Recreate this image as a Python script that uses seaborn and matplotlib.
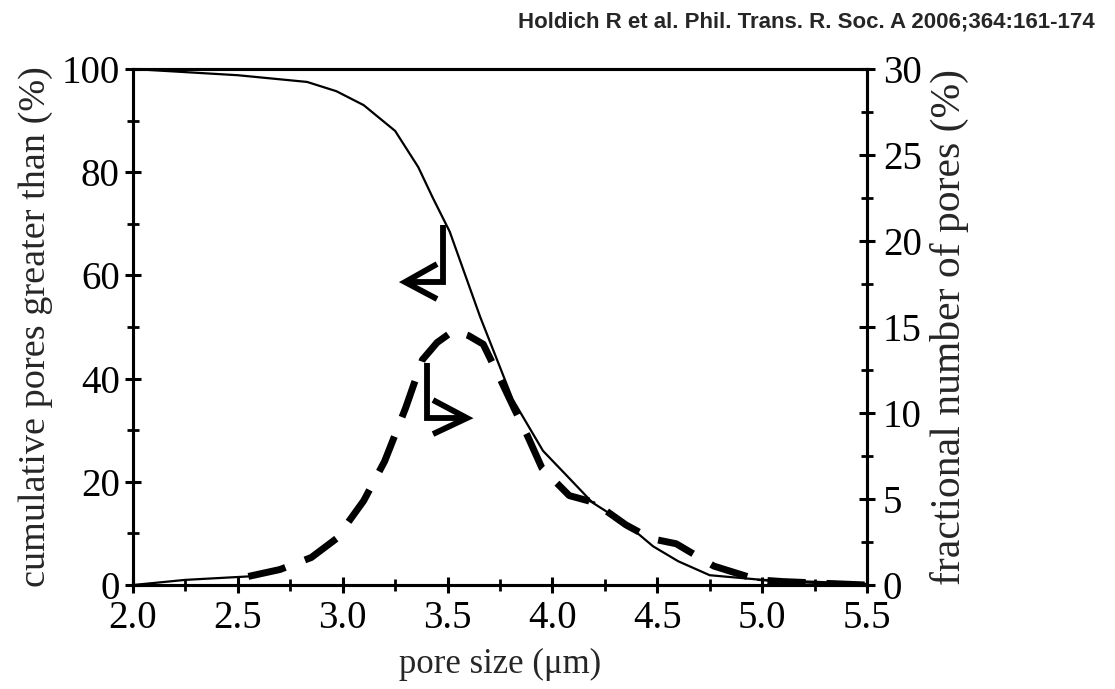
import matplotlib
matplotlib.use("Agg")
import matplotlib.pyplot as plt
import seaborn as sns
import pandas as pd
import numpy as np
from matplotlib.ticker import MultipleLocator

# cumulative pores greater than (%), left axis
cum_x = [2.0, 2.5, 2.83, 2.97, 3.1, 3.25, 3.36, 3.43, 3.51, 3.655, 3.81, 3.955,
         4.08, 4.19, 4.36, 4.48, 4.6, 4.75, 5.0, 5.4, 5.5]
cum_y = [100, 98.8, 97.5, 95.7, 93.0, 88.0, 81.0, 75.0, 68.5, 52.0, 36.0, 26.0,
         20.7, 16.0, 11.6, 7.5, 4.6, 1.9, 1.0, 0.4, 0.2]

# fractional number of pores (%), right axis
frac_x = [2.0, 2.25, 2.55, 2.7, 2.85, 2.97, 3.1, 3.2, 3.3, 3.38, 3.45, 3.53, 3.6,
          3.67, 3.75, 3.82, 3.88, 3.95, 4.08, 4.2, 4.35, 4.47, 4.59, 4.77, 4.98,
          5.1, 5.5]
frac_y = [0.0, 0.3, 0.5, 0.9, 1.6, 2.7, 4.9, 7.2, 10.3, 13.1, 14.1, 14.8, 14.5,
          14.0, 12.0, 10.2, 8.7, 6.8, 5.2, 4.8, 3.5, 2.7, 2.4, 1.1, 0.3, 0.2, 0.0]

x_ticks = [2.0, 2.5, 3.0, 3.5, 4.0, 4.5, 5.0, 5.5]
left_ticks = [0, 20, 40, 60, 80, 100]
right_ticks = [0, 5, 10, 15, 20, 25, 30]

sns.set_style("ticks")
plt.rcParams['font.family'] = ['Liberation Serif', 'DejaVu Serif']

cum = pd.DataFrame({"x": cum_x, "y": cum_y})
frac = pd.DataFrame({"x": frac_x, "y": frac_y})

fig = plt.figure(figsize=(11.15, 6.89), dpi=100)
ax = fig.add_axes([0.1193, 0.1509, 0.7776 - 0.1193, 0.8998 - 0.1509])
ax2 = ax.twinx()

sns.lineplot(data=cum, x="x", y="y", ax=ax, color="black", lw=1.6, sort=False)
# thin connecting line at the low tail & near the crossing
sns.lineplot(data=frac[frac["x"] <= 2.6], x="x", y="y", ax=ax2, color="black", lw=1.6, sort=False)
sns.lineplot(data=frac[frac["x"] >= 4.9], x="x", y="y", ax=ax2, color="black", lw=1.6, sort=False)
sns.lineplot(data=frac[(frac["x"] >= 4.08) & (frac["x"] <= 4.2)], x="x", y="y", ax=ax2,
             color="black", lw=1.6, sort=False)
l2 = sns.lineplot(data=frac[frac["x"] >= 2.5], x="x", y="y", ax=ax2, color="black", lw=5, sort=False)
l2.lines[-1].set_linestyle((0, (5.5, 3)))

ax.set_xlim(2.0, 5.5)
ax.set_ylim(0, 100)
ax2.set_ylim(0, 30)
ax.set_xticks(x_ticks)
ax.set_xticklabels([f"{v:.1f}" for v in x_ticks])
ax.set_yticks(left_ticks)
ax2.set_yticks(right_ticks)
ax.xaxis.set_minor_locator(MultipleLocator(0.25))
ax.yaxis.set_minor_locator(MultipleLocator(10))
ax2.yaxis.set_minor_locator(MultipleLocator(2.5))

for a in (ax, ax2):
    for s in a.spines.values():
        s.set_visible(True)
        s.set_linewidth(2.2)
        s.set_color("black")
    a.tick_params(which="major", direction="inout", length=11, width=2.2,
                  labelsize=28, colors="black", pad=3)
    a.tick_params(which="minor", direction="inout", length=8, width=2.0, colors="black")
ax.tick_params(axis="y", which="major", pad=4)
ax2.tick_params(axis="y", which="major", pad=6)
ax.tick_params(axis="x", which="major", pad=5)

ax.set_xlabel("pore size (\u03bcm)", fontsize=25, labelpad=8)
ax.set_ylabel("cumulative pores greater than (%)", fontsize=27.5, labelpad=6)
ax2.set_ylabel("fractional number of pores (%)", fontsize=30, labelpad=6)

# direction arrows (axes fraction)
arrow_kw = dict(transform=ax.transAxes, color="black", lw=4.2, solid_joinstyle="miter",
                solid_capstyle="butt", clip_on=False)
ax.plot([0.4223, 0.4223, 0.3706], [0.6977, 0.5872, 0.5872], **arrow_kw)
ax.plot([0.4142, 0.3706, 0.4142], [0.6221, 0.5872, 0.5543], **arrow_kw)
ax.plot([0.4005, 0.4005, 0.4550], [0.4302, 0.3236, 0.3236], **arrow_kw)
ax.plot([0.4087, 0.4550, 0.4087], [0.3585, 0.3236, 0.2926], **arrow_kw)

fig.text(0.982, 0.968, "Holdich R et al. Phil. Trans. R. Soc. A 2006;364:161-174",
         ha="right", va="center", fontsize=16, fontweight="bold",
         family=["Liberation Sans", "DejaVu Sans"])

fig.savefig("out.png", dpi=100)
